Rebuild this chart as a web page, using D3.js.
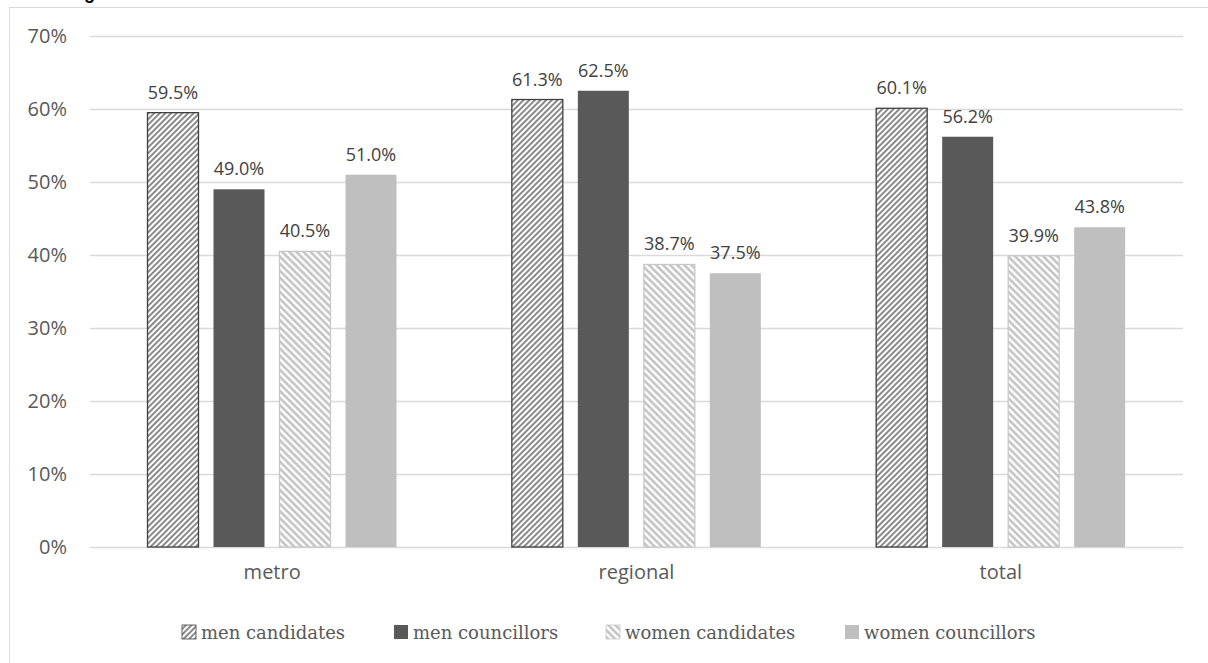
<!DOCTYPE html>
<html>
<head>
<meta charset="utf-8">
<script src="https://cdn.jsdelivr.net/npm/d3@7"></script>
<style>
  body { margin: 0; background: #fff; }
  svg { display: block; }
</style>
</head>
<body>
<svg id="chart"></svg>
<script>
const categories = ['metro', 'regional', 'total'];
const seriesNames = ['men candidates', 'men councillors', 'women candidates', 'women councillors'];
const menCandidates = [59.5, 61.3, 60.1];
const menCouncillors = [49.0, 62.5, 56.2];
const womenCandidates = [40.5, 38.7, 39.9];
const womenCouncillors = [51.0, 37.5, 43.8];
const yTicks = [0, 10, 20, 30, 40, 50, 60, 70];

const seriesValues = [menCandidates, menCouncillors, womenCandidates, womenCouncillors];

const width = 1208;
const height = 663;

const svg = d3.select('#chart')
  .attr('width', width)
  .attr('height', height);

// patterns
const defs = svg.append('defs');

const pMen = defs.append('pattern')
  .attr('id', 'hatchMen')
  .attr('patternUnits', 'userSpaceOnUse')
  .attr('width', 4)
  .attr('height', 4)
  .attr('patternTransform', 'rotate(45)');
pMen.append('rect').attr('width', 4).attr('height', 4).attr('fill', '#fff');
pMen.append('line')
  .attr('x1', 1).attr('y1', 0).attr('x2', 1).attr('y2', 4)
  .attr('stroke', '#4a4a4a').attr('stroke-width', 1.3);

const pWomen = defs.append('pattern')
  .attr('id', 'hatchWomen')
  .attr('patternUnits', 'userSpaceOnUse')
  .attr('width', 5)
  .attr('height', 5)
  .attr('patternTransform', 'rotate(-45)');
pWomen.append('rect').attr('width', 5).attr('height', 5).attr('fill', '#fff');
pWomen.append('line')
  .attr('x1', 1.5).attr('y1', 0).attr('x2', 1.5).attr('y2', 5)
  .attr('stroke', '#bfbfbf').attr('stroke-width', 2.4);

const fills = ['url(#hatchMen)', '#595959', 'url(#hatchWomen)', '#bfbfbf'];
const strokes = ['#404040', 'none', '#c8c8c8', 'none'];

// chart frame (extends past the window)
svg.append('rect')
  .attr('x', 9.5)
  .attr('y', 7.5)
  .attr('width', width + 20)
  .attr('height', height + 20)
  .attr('fill', 'none')
  .attr('stroke', '#d9d9d9');

// cropped title remnant
svg.append('text')
  .attr('x', 84)
  .attr('y', -1)
  .attr('font-family', 'Liberation Sans, Arial, sans-serif')
  .attr('font-weight', 'bold')
  .attr('font-size', 18)
  .attr('fill', '#000')
  .text('g');

const plot = { left: 90, right: 1183, top: 36, bottom: 547 };

const x0 = d3.scaleBand()
  .domain(categories)
  .range([plot.left, plot.right]);

const groupOffset = 57;
const groupWidth = 250;
const x1 = d3.scaleBand()
  .domain(seriesNames)
  .range([0, groupWidth])
  .paddingInner(14 / 66)
  .paddingOuter(0);

const y = d3.scaleLinear()
  .domain([0, 70])
  .range([plot.bottom, plot.top]);

// gridlines
svg.append('g')
  .selectAll('line')
  .data(yTicks)
  .join('line')
  .attr('x1', plot.left)
  .attr('x2', plot.right)
  .attr('y1', d => Math.round(y(d)) + 0.5)
  .attr('y2', d => Math.round(y(d)) + 0.5)
  .attr('stroke', '#d9d9d9')
  .attr('stroke-width', 1.3);

// y axis labels
const yAxis = d3.axisLeft(y)
  .tickValues(yTicks)
  .tickSize(0)
  .tickPadding(0)
  .tickFormat(d => d + '%');

svg.append('g')
  .attr('transform', `translate(${plot.left - 23},0)`)
  .call(yAxis)
  .call(g => g.select('.domain').remove())
  .call(g => g.selectAll('text')
    .attr('font-family', 'Open Sans, sans-serif')
    .attr('font-size', 20)
    .attr('fill', '#595959'));

// x axis labels
const xAxis = d3.axisBottom(x0).tickSize(0).tickPadding(0);
svg.append('g')
  .attr('transform', `translate(0,${plot.bottom + 18})`)
  .call(xAxis)
  .call(g => g.select('.domain').remove())
  .call(g => g.selectAll('text')
    .attr('font-family', 'Open Sans, sans-serif')
    .attr('font-size', 20)
    .attr('fill', '#595959'));

// bars
const barData = [];
categories.forEach((c, ci) => {
  seriesNames.forEach((s, si) => {
    barData.push({ cat: c, series: s, si, value: seriesValues[si][ci] });
  });
});

const bars = svg.append('g');
bars.selectAll('rect')
  .data(barData)
  .join('rect')
  .attr('x', d => x0(d.cat) + groupOffset + x1(d.series) + 0.5)
  .attr('y', d => y(d.value))
  .attr('width', x1.bandwidth() - 1)
  .attr('height', d => y(0) - y(d.value))
  .attr('fill', d => fills[d.si])
  .attr('stroke', d => strokes[d.si])
  .attr('stroke-width', 1.3);

// value labels
bars.selectAll('text')
  .data(barData)
  .join('text')
  .attr('x', d => x0(d.cat) + groupOffset + x1(d.series) + x1.bandwidth() / 2)
  .attr('y', d => y(d.value) - 14)
  .attr('text-anchor', 'middle')
  .attr('font-family', 'Open Sans, sans-serif')
  .attr('font-size', 18)
  .attr('fill', '#404040')
  .text(d => d.value.toFixed(1) + '%');

// legend
const legendX = [182, 394, 606, 845];
const legend = svg.append('g')
  .attr('transform', 'translate(0,639)');

const items = legend.selectAll('g')
  .data(seriesNames)
  .join('g')
  .attr('transform', (d, i) => `translate(${legendX[i]},0)`);

items.append('rect')
  .attr('x', 0)
  .attr('y', -14)
  .attr('width', 14)
  .attr('height', 14)
  .attr('fill', (d, i) => fills[i])
  .attr('stroke', (d, i) => (i === 0 ? '#404040' : i === 2 ? '#c8c8c8' : 'none'))
  .attr('stroke-width', 0.8);

items.append('text')
  .attr('x', 19)
  .attr('y', 0)
  .attr('font-family', 'DejaVu Serif, serif')
  .attr('font-size', 18)
  .attr('fill', '#595959')
  .text(d => d);
</script>
</body>
</html>
